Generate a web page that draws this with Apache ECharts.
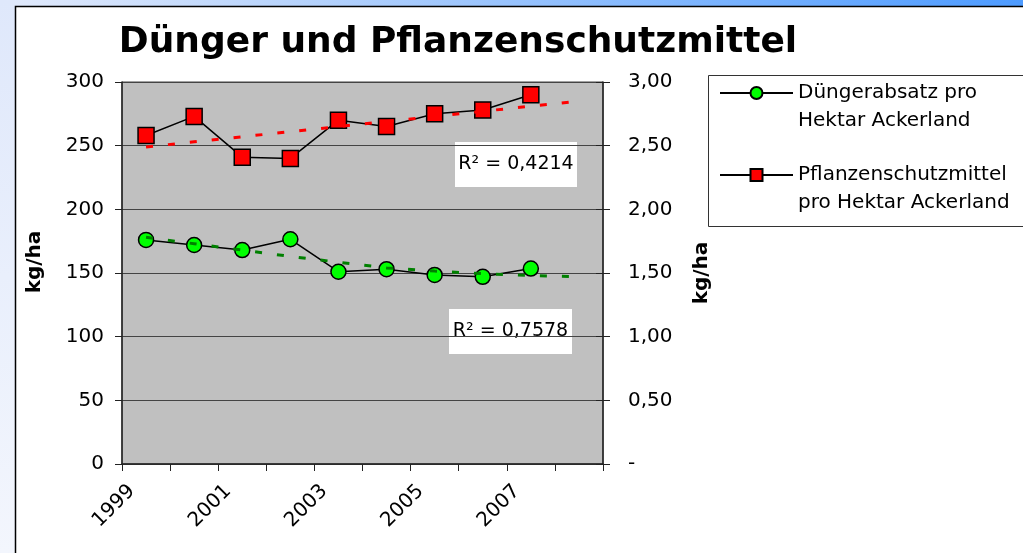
<!DOCTYPE html>
<html lang="de">
<head>
    <meta charset="UTF-8">
    <meta name="viewport" content="width=device-width, initial-scale=1.0">
    <title>Dünger und Pflanzenschutzmittel</title>
    <style>
        * {
            margin: 0;
            padding: 0;
        }

        html, body {
            width: 1023px;
            height: 553px;
            overflow: hidden;
            background: #fff;
        }

        #myEcharts {
            width: 1023px;
            height: 553px;
        }
    </style>
</head>
<body>
    <div id="myEcharts"></div>
    <script src="https://cdn.jsdelivr.net/npm/echarts@6/dist/echarts.min.js"></script>
    <script>
        var years = ['1999', '2000', '2001', '2002', '2003', '2004', '2005', '2006', '2007', '2008'];
        // kg/ha, left axis
        var duenger = [176, 172, 168, 176.5, 151, 153, 148.5, 147, 153.5, null];
        var duengerTrend = [178, 173, 168, 163, 158.5, 154, 151.5, 149.5, 148, 147];
        // kg/ha, right axis
        var pflanzenschutz = [2.58, 2.73, 2.41, 2.40, 2.70, 2.65, 2.75, 2.78, 2.90, null];
        var pflanzenTrend = [2.49, 2.53, 2.57, 2.61, 2.65, 2.69, 2.73, 2.77, 2.81, 2.85];
        var seriesNames = ['Düngerabsatz pro\nHektar Ackerland', 'Pflanzenschutzmittel\npro Hektar Ackerland'];
        var rSquared = ['R² = 0,4214', 'R² = 0,7578'];

        var FONT = 'DejaVu Sans';

        function rightLabel(v) {
            if (v === 0) return '-';
            return v.toFixed(2).replace('.', ',');
        }

        function legendFor(name, top) {
            return {
                data: [name],
                left: 719,
                top: top,
                orient: 'vertical',
                padding: 0,
                itemWidth: 73,
                itemHeight: 15,
                selectedMode: false,
                // empty first line so the marker sits on the first text line
                formatter: function (n) {
                    return '\n' + n;
                },
                textStyle: {
                    fontFamily: FONT,
                    fontSize: 20,
                    lineHeight: 28,
                    color: '#000'
                }
            };
        }

        function rBox(x, y, w, h, text) {
            return {
                type: 'group',
                left: x,
                top: y,
                children: [{
                    type: 'rect',
                    shape: { x: 0, y: 0, width: w, height: h },
                    style: { fill: '#fff' }
                }, {
                    type: 'text',
                    x: w / 2,
                    y: h / 2,
                    style: {
                        text: text,
                        fontFamily: FONT,
                        fontSize: 19,
                        fill: '#000',
                        align: 'center',
                        verticalAlign: 'middle'
                    }
                }]
            };
        }

        var option = {
            backgroundColor: '#fff',
            animation: false,
            title: {
                text: 'Dünger und Pflanzenschutzmittel',
                left: 458,
                top: 25,
                padding: 0,
                textAlign: 'center',
                textStyle: { fontFamily: FONT, fontSize: 36, fontWeight: 'bold', color: '#000' }
            },
            legend: [legendFor(seriesNames[0], 51), legendFor(seriesNames[1], 133)],
            grid: {
                left: 122,
                right: 420,
                top: 82,
                bottom: 89,
                show: true,
                backgroundColor: '#c0c0c0',
                borderColor: '#444',
                borderWidth: 1
            },
            xAxis: {
                type: 'category',
                data: years,
                boundaryGap: true,
                axisLine: { lineStyle: { color: '#222', width: 1.5 } },
                axisTick: { show: true, interval: 0, length: 7, lineStyle: { color: '#222' } },
                axisLabel: {
                    interval: 1,
                    rotate: 45,
                    margin: 10,
                    padding: [0, 20, 0, 0],
                    fontFamily: FONT,
                    fontSize: 20,
                    color: '#000'
                },
                splitLine: { show: false }
            },
            yAxis: [{
                type: 'value',
                position: 'left',
                min: 0,
                max: 300,
                interval: 50,
                name: 'kg/ha',
                nameLocation: 'middle',
                nameRotate: 90,
                nameGap: 77,
                nameTextStyle: { fontFamily: FONT, fontSize: 20, fontWeight: 'bold', color: '#000', padding: [0, 0, 0, 22] },
                axisLine: { show: true, lineStyle: { color: '#222', width: 1.5 } },
                axisTick: { show: true, length: 7, lineStyle: { color: '#222' } },
                axisLabel: { margin: 18, fontFamily: FONT, fontSize: 20, color: '#000' },
                splitLine: { show: true, lineStyle: { color: '#444', width: 1 } }
            }, {
                type: 'value',
                position: 'right',
                min: 0,
                max: 3,
                interval: 0.5,
                name: 'kg/ha',
                nameLocation: 'middle',
                nameRotate: 90,
                nameGap: 89,
                nameTextStyle: { fontFamily: FONT, fontSize: 20, fontWeight: 'bold', color: '#000' },
                axisLine: { show: true, lineStyle: { color: '#222', width: 1.5 } },
                axisTick: { show: true, length: 7, lineStyle: { color: '#222' } },
                axisLabel: { margin: 25, fontFamily: FONT, fontSize: 20, color: '#000', formatter: rightLabel },
                splitLine: { show: false }
            }, {
                // inner half of the right ticks
                type: 'value',
                position: 'right',
                min: 0,
                max: 3,
                interval: 0.5,
                axisLine: { show: false },
                axisTick: { show: true, inside: true, length: 7, lineStyle: { color: '#222' } },
                axisLabel: { show: false },
                splitLine: { show: false }
            }],
            series: [{
                name: seriesNames[0],
                type: 'line',
                yAxisIndex: 0,
                data: duenger,
                symbol: 'circle',
                symbolSize: 15,
                lineStyle: { color: '#000', width: 1.5 },
                itemStyle: { color: '#00ff00', borderColor: '#000', borderWidth: 1.5 },
                z: 3
            }, {
                name: seriesNames[1],
                type: 'line',
                yAxisIndex: 1,
                data: pflanzenschutz,
                symbol: 'rect',
                symbolSize: 16,
                lineStyle: { color: '#000', width: 1.5 },
                itemStyle: { color: '#ff0000', borderColor: '#000', borderWidth: 1.5 },
                z: 3
            }, {
                name: 'Trend Dünger',
                type: 'line',
                yAxisIndex: 0,
                data: duengerTrend,
                showSymbol: false,
                symbol: 'none',
                lineStyle: { color: '#008000', width: 3, type: [7, 15] },
                z: 4
            }, {
                name: 'Trend Pflanzenschutz',
                type: 'line',
                yAxisIndex: 1,
                data: pflanzenTrend,
                showSymbol: false,
                symbol: 'none',
                lineStyle: { color: '#ff0000', width: 3, type: [7, 15] },
                z: 4
            }],
            graphic: [{
                // slide background around the chart
                type: 'rect',
                left: 0,
                top: 0,
                shape: { width: 1023, height: 6 },
                style: {
                    fill: new echarts.graphic.LinearGradient(0, 0, 1, 0, [
                        { offset: 0, color: '#e2eafb' },
                        { offset: 1, color: '#4d9bff' }
                    ])
                }
            }, {
                type: 'rect',
                left: 0,
                top: 0,
                shape: { width: 15, height: 553 },
                style: {
                    fill: new echarts.graphic.LinearGradient(0, 0, 0, 1, [
                        { offset: 0, color: '#dfe8fb' },
                        { offset: 1, color: '#f3f6fd' }
                    ])
                }
            }, {
                type: 'polyline',
                shape: { points: [[15.5, 553], [15.5, 6.5], [1023, 6.5]] },
                style: { stroke: '#000', lineWidth: 1.5, fill: null }
            }, {
                // legend frame
                type: 'rect',
                shape: { x: 708.5, y: 75.5, width: 330, height: 151 },
                style: { fill: null, stroke: '#333', lineWidth: 1 }
            },
            rBox(455, 142, 122, 45, rSquared[0]),
            rBox(449, 309, 123, 45, rSquared[1])]
        };

        var myEcharts = echarts.init(document.getElementById('myEcharts'));
        myEcharts.setOption(option);
    </script>
</body>
</html>
